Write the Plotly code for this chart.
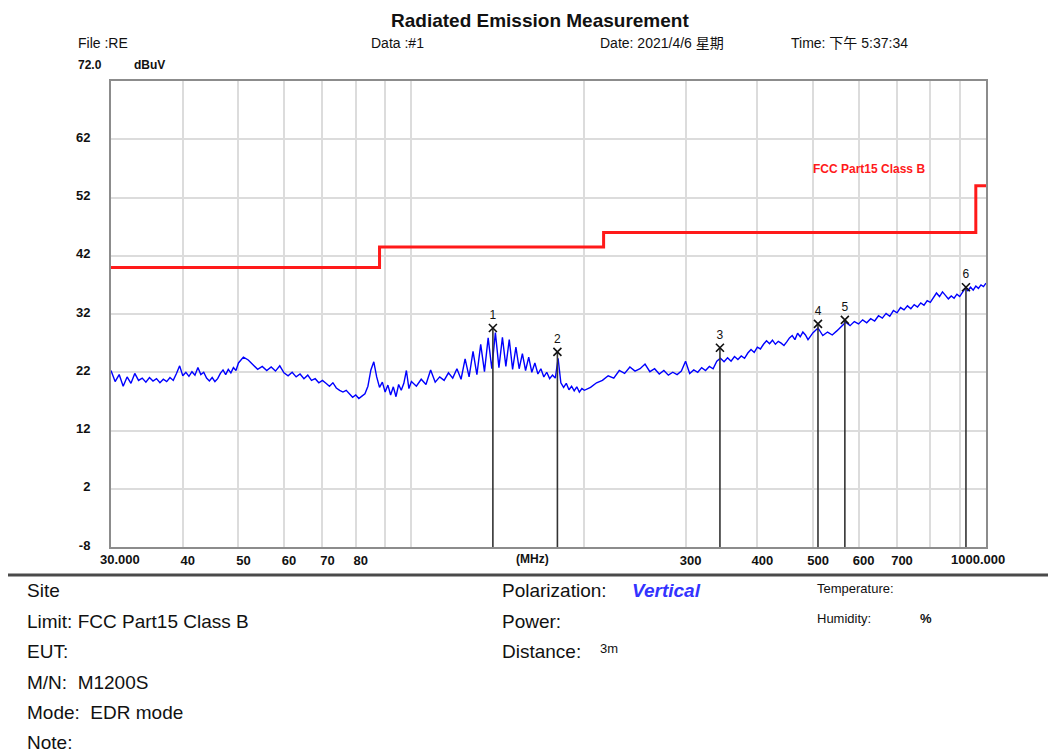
import math
import plotly.graph_objects as go

# ---------------- data ----------------
trace_freq = [
    30, 30.5, 31, 31.5, 32, 32.5, 33, 33.5, 34, 34.5, 35, 35.5, 36, 36.5, 37, 37.5, 38, 38.5, 39, 39.5,
    40, 40.5, 41, 41.5, 42, 42.5, 43, 43.5, 44, 44.5, 45, 45.5, 46, 46.5, 47, 47.5, 48, 48.5, 49, 49.5, 50,
    51, 52, 53, 54, 55, 56, 57, 58, 59, 60, 61, 62, 63, 64, 65, 66, 67, 68, 69, 70,
    71, 72, 73, 74, 75, 76, 77, 78, 79, 80, 81, 82, 83, 84, 85, 86, 87, 88, 89, 90,
    91, 92, 93, 94, 95, 96, 97, 98, 99, 100,
    102, 104, 106, 108, 110, 112, 114, 116, 118, 120, 122, 124, 126, 128, 130, 132, 134, 136, 138, 140,
    142, 144, 146, 148, 150, 152, 154, 156, 158, 160, 162, 164, 166, 168, 170, 172, 174, 176, 178, 180,
    182, 184, 186, 188, 190, 192, 194, 196, 198, 200,
    205, 210, 215, 220, 225, 230, 235, 240, 245, 250, 255, 260, 265, 270, 275, 280, 285, 290, 295, 300,
    305, 310, 315, 320, 325, 330, 335, 340, 345, 350, 355, 360, 365, 370, 375, 380, 385, 390, 395, 400,
    405, 410, 415, 420, 425, 430, 435, 440, 445, 450, 455, 460, 465, 470, 475, 480, 485, 490, 495, 500,
    510, 520, 530, 540, 550, 560, 570, 580, 590, 600, 610, 620, 630, 640, 650, 660, 670, 680, 690, 700,
    710, 720, 730, 740, 750, 760, 770, 780, 790, 800, 810, 820, 830, 840, 850, 860, 870, 880, 890, 900,
    910, 920, 930, 940, 950, 960, 970, 980, 990, 1000,
]
trace_level = [
    22.3, 20.4, 21.6, 19.6, 21.2, 20.1, 21.8, 20.6, 21.0, 20.3, 21.1, 20.5, 20.9, 20.2, 20.8, 20.4, 21.1, 20.6, 21.8, 23.1,
    21.4, 22.0, 21.3, 22.1, 21.5, 22.8, 21.6, 22.0, 21.0, 20.5, 21.1, 20.4, 20.9, 21.8, 22.4, 21.6, 22.5, 21.9, 22.8, 22.3, 23.6,
    24.6, 24.1, 23.2, 22.5, 23.0, 22.3, 22.9, 22.2, 23.1, 21.9, 21.4, 22.0, 21.2, 21.7, 20.9, 21.5, 20.6, 20.9, 20.2, 20.6,
    20.1, 19.6, 20.2, 19.3, 18.9, 18.6, 18.9, 18.2, 17.7, 18.1, 17.5, 17.9, 18.3, 19.6, 22.4, 23.8, 21.2, 19.4, 20.3, 18.6,
    19.8, 18.1, 19.5, 17.8, 19.9, 18.9, 20.1, 22.3, 19.2, 20.4,
    19.6, 20.8, 19.9, 22.4, 20.3, 21.2, 20.6, 21.9, 21.0, 22.6, 20.8, 24.3, 21.2, 25.6, 21.6, 26.8, 22.1, 27.9, 22.6, 28.8,
    22.8, 28.0, 23.0, 27.6, 22.5, 26.3, 22.6, 25.2, 22.3, 24.6, 22.0, 23.6, 21.7, 22.6, 21.2, 22.0, 20.9, 21.5, 21.0, 24.4,
    20.2, 19.4, 20.1, 19.0, 19.6, 18.8, 19.5, 18.6, 19.2, 18.9,
    19.4, 20.2, 20.6, 21.4, 21.0, 22.3, 21.8, 22.9, 22.2, 22.6, 23.4, 22.1, 22.6, 21.7, 22.3, 21.5, 22.0, 21.6, 22.2, 23.9,
    21.8, 22.4, 22.0, 22.8, 22.3, 23.0, 22.6, 23.9, 24.4, 23.8, 24.5, 23.9, 24.7, 24.2, 24.8, 24.4, 25.3, 25.9, 25.4, 26.3,
    26.0, 26.8, 27.4, 26.9, 27.5, 26.8, 27.3, 27.0, 26.6, 27.2, 27.9, 28.3, 27.6, 28.7, 28.1, 28.9, 28.4, 27.6, 28.3, 28.8,
    29.6, 28.3, 28.9, 28.4, 29.1, 29.8, 30.6, 30.0, 30.7, 30.3, 31.0, 30.5, 31.2, 30.8, 31.7, 31.3, 32.1, 31.6, 32.6, 32.2,
    33.1, 32.7, 33.4, 32.9, 33.6, 33.2, 33.9, 33.5, 34.3, 34.0, 34.9, 35.6, 35.0, 35.8, 35.2, 34.6, 35.1, 34.7, 35.4, 35.0,
    35.7, 36.4, 36.0, 36.6, 36.1, 36.8, 36.4, 37.0, 36.7, 37.3,
]

limit_freq = [30, 88, 216, 960, 1000]
limit_level = [40, 43.5, 46, 54, 54]

marker_ids = ["1", "2", "3", "4", "5", "6"]
marker_freq = [138.6, 179.5, 344.3, 510.0, 568.0, 922.8]
marker_level = [29.6, 25.5, 26.2, 30.3, 31.0, 36.6]

x_tickvals = [40, 50, 60, 70, 80, 90, 100, 200, 300, 400, 500, 600, 700, 800, 900]
x_ticktext = ["40", "50", "60", "70", "80", "", "", "", "300", "400", "500", "600", "700", "", ""]
y_tickvals = [-8, 2, 12, 22, 32, 42, 52, 62]
y_ticktext = ["-8", "2", "12", "22", "32", "42", "52", "62"]
Y_MIN, Y_MAX = -8, 72
F_MIN, F_MAX = 30, 1000

# ---------------- layout geometry ----------------
# the page body adds an 8px offset, so the figure is drawn 8px smaller and
# every page-pixel coordinate below is shifted by OFF
OFF = 8
W, H = 1056 - OFF, 753 - OFF
PLOT_L, PLOT_T, PLOT_R, PLOT_B = 111, 81, 986, 547          # page pixels
L, T = PLOT_L - OFF, PLOT_T - OFF
PW, PH = PLOT_R - PLOT_L, PLOT_B - PLOT_T
R, B = W - L - PW, H - T - PH
FONT = "Liberation Sans, Arial, Noto Sans CJK SC, sans-serif"


def px(xp):
    return (xp - PLOT_L) / PW


def py(yp):
    return (PLOT_B - yp) / PH


fig = go.Figure()

# limit line
fig.add_trace(go.Scatter(
    x=limit_freq, y=limit_level, mode="lines", line=dict(color="#ff1a1a", width=3, shape="hv"),
    hoverinfo="skip", showlegend=False))

# measured trace
fig.add_trace(go.Scatter(
    x=trace_freq, y=trace_level, mode="lines", line=dict(color="#0000ff", width=1.4),
    showlegend=False))

# marker stems
stem_x, stem_y = [], []
for f, v in zip(marker_freq, marker_level):
    stem_x += [f, f, None]
    stem_y += [v, Y_MIN, None]
fig.add_trace(go.Scatter(
    x=stem_x, y=stem_y, mode="lines", line=dict(color="#333333", width=1.6),
    hoverinfo="skip", showlegend=False))

# markers
fig.add_trace(go.Scatter(
    x=marker_freq, y=marker_level, mode="markers+text", text=marker_ids,
    textposition="top center", textfont=dict(family=FONT, size=12, color="#111111"),
    marker=dict(symbol="x-thin", size=8, line=dict(color="#111111", width=1.6)),
    showlegend=False))

annotations = []


def ann(text, xp, yp, size, xanchor="left", color="#111111", yanchor="middle", **kw):
    annotations.append(dict(
        text=text, x=px(xp), y=py(yp), xref="paper", yref="paper", xanchor=xanchor,
        yanchor=yanchor, showarrow=False, font=dict(family=FONT, size=size, color=color), **kw))


ann("<b>Radiated Emission Measurement</b>", 540, 8, 19, xanchor="center", yanchor="top")
ann("File :RE", 76, 43, 14)
ann("Data :#1", 369, 43, 14)
ann("Date: 2021/4/6 星期", 598, 43, 14)
ann("Time: 下午 5:37:34", 789, 43, 14)
ann("<b>72.0</b>", 76, 65, 12)
ann("<b>dBuV</b>", 132, 65, 12)
ann("<b>30.000</b>", 120, 559, 13, xanchor="center")
ann("<b>1000.000</b>", 978, 559, 13, xanchor="center")
ann("<b>(MHz)</b>", 532, 559, 12, xanchor="center")
ann("<b>FCC Part15 Class B</b>", 869, 169, 12, xanchor="center", color="#ff1a1a")

rows = ["Site", "Limit: FCC Part15 Class B", "EUT:", "M/N:  M1200S", "Mode:  EDR mode", "Note:"]
row_y = [590, 621, 651, 682, 712, 742]
for t, yy in zip(rows, row_y):
    ann(t, 25, yy, 19)
ann("Polarization:", 500, 590, 19)
ann("<b><i>Vertical</i></b>", 630, 590, 19, color="#3333ff")
ann("Power:", 500, 621, 19)
ann("Distance:", 500, 651, 19)
ann("3m", 598, 648, 13)
ann("Temperature:", 815, 588, 13)
ann("Humidity:", 815, 618, 13)
ann("<b>%</b>", 918, 618, 13)

fig.update_layout(
    width=W, height=H, margin=dict(l=L, r=R, t=T, b=B, autoexpand=False),
    paper_bgcolor="white", plot_bgcolor="white",
    annotations=annotations,
    shapes=[dict(type="line", xref="paper", yref="paper", x0=px(0), x1=px(1056), y0=py(575), y1=py(575),
                 line=dict(color="#4a4a4a", width=3))],
    xaxis=dict(
        type="log", range=[math.log10(F_MIN), math.log10(F_MAX)], tickvals=x_tickvals, ticktext=x_ticktext,
        showgrid=True, gridcolor="#dcdcdc", gridwidth=1.5, zeroline=False,
        showline=True, mirror=True, linecolor="#8c8c8c", linewidth=2, ticks="",
        ticklabelshift=5, ticklabelstandoff=0,
        tickfont=dict(family=FONT, size=13, color="#111111", weight="bold")),
    yaxis=dict(
        range=[Y_MIN, Y_MAX], tickvals=y_tickvals, ticktext=y_ticktext,
        showgrid=True, gridcolor="#dcdcdc", gridwidth=1.5, zeroline=False,
        showline=True, mirror=True, linecolor="#8c8c8c", linewidth=2, ticks="",
        ticklabelshift=-2, ticklabelstandoff=16,
        tickfont=dict(family=FONT, size=13, color="#111111", weight="bold")),
)

fig.write_html("out.html")
